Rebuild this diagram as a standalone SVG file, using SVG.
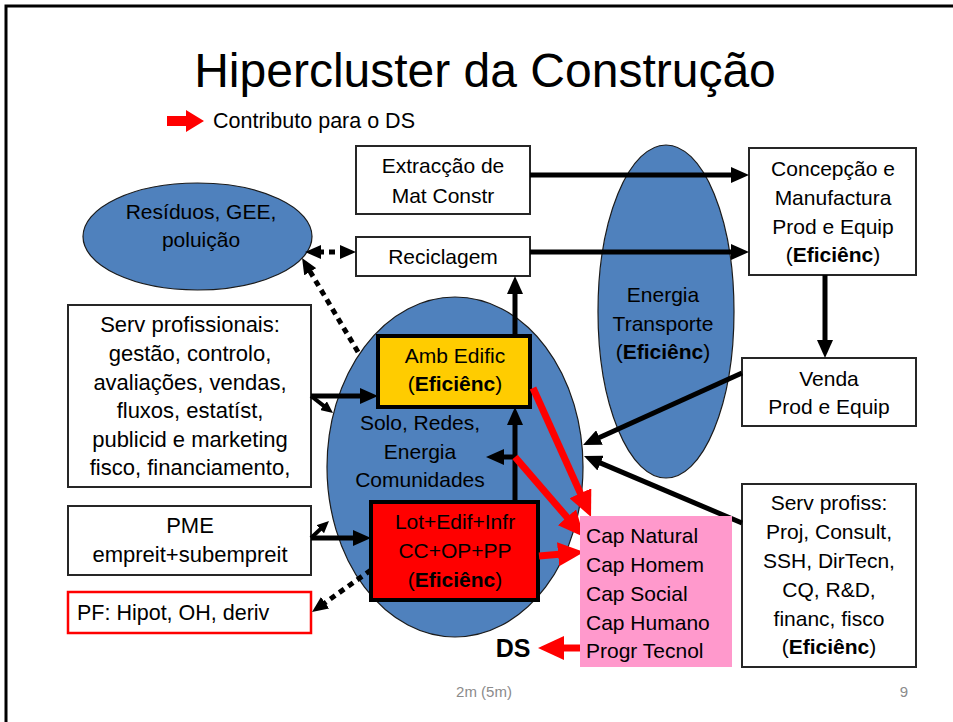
<svg xmlns="http://www.w3.org/2000/svg" width="953" height="722" viewBox="0 0 953 722">
<style>
.t{font-family:"Liberation Sans",Arial,sans-serif;font-size:21px;fill:#000}
.l{font-size:22px}
.c{text-anchor:middle}
.b{font-weight:bold}
.box{fill:#fff;stroke:#262626;stroke-width:2}
.ell{fill:#4F81BD;stroke:#1b1b1b;stroke-width:1.2}
.blk{stroke:#000;stroke-width:5;fill:none;marker-end:url(#hb)}
.sm{stroke:#000;stroke-width:4;fill:none;marker-end:url(#hs)}
.dot{stroke:#000;stroke-width:5;fill:none;stroke-dasharray:6 5;marker-end:url(#hd)}
.red{stroke:#FF0000;stroke-width:7;fill:none;marker-end:url(#hr)}
.foot{font-family:"Liberation Sans",Arial,sans-serif;font-size:15px;fill:#8B8B8B;text-anchor:middle}
</style>
<defs>
<marker id="hb" viewBox="0 0 18 16" refX="3" refY="8" markerWidth="18" markerHeight="16" markerUnits="userSpaceOnUse" orient="auto"><path d="M0,0 L18,8 L0,16 z" fill="#000"/></marker>
<marker id="hs" viewBox="0 0 12 11" refX="2" refY="5.5" markerWidth="12" markerHeight="11" markerUnits="userSpaceOnUse" orient="auto"><path d="M0,0 L12,5.5 L0,11 z" fill="#000"/></marker>
<marker id="hd" viewBox="0 0 16 14" refX="3" refY="7" markerWidth="16" markerHeight="14" markerUnits="userSpaceOnUse" orient="auto-start-reverse"><path d="M0,0 L16,7 L0,14 z" fill="#000"/></marker>
<marker id="hr" viewBox="0 0 26 24" refX="4" refY="12" markerWidth="26" markerHeight="24" markerUnits="userSpaceOnUse" orient="auto"><path d="M0,0 L26,12 L0,24 z" fill="#FF0000"/></marker>
</defs>
<rect width="953" height="722" fill="#fff"/>
<path d="M6,722 V6 H953" fill="none" stroke="#000" stroke-width="3"/>
<text class="t c" x="485" y="87" style="font-size:48px">Hipercluster da Construção</text>
<g id="legend">
<path d="M167,116 H186 V110 L204,121 L186,132 V126 H167 z" fill="#FF0000"/>
<text class="t" x="213" y="128" style="font-size:21.5px">Contributo para o DS</text>
</g>
<g id="energia"><ellipse class="ell" cx="666" cy="311.5" rx="68" ry="166.5"/>
<text class="t c" x="663" y="302">Energia</text><text class="t c" x="663" y="331">Transporte</text><text class="t c" x="663" y="359">(<tspan class="b">Eficiênc</tspan>)</text></g>
<g id="central"><ellipse class="ell" cx="455" cy="467" rx="128" ry="170"/>
<text class="t c" x="420" y="430">Solo, Redes,</text><text class="t c" x="420" y="459">Energia</text><text class="t c" x="420" y="487">Comunidades</text></g>
<g id="residuos"><ellipse class="ell" cx="197.5" cy="236.5" rx="114.5" ry="53.5"/>
<text class="t c" x="201" y="219">Resíduos, GEE,</text><text class="t c" x="201" y="247">poluição</text></g>
<g id="extraccao"><rect class="box" x="356" y="146" width="174" height="68"/>
<text class="t c" x="443" y="173">Extracção de</text><text class="t c" x="443" y="203">Mat Constr</text></g>
<g id="reciclagem"><rect class="box" x="356" y="237" width="174" height="39"/>
<text class="t c" x="443" y="264">Reciclagem</text></g>
<g id="concepcao"><rect class="box" x="749" y="148" width="167" height="127"/>
<text class="t c" x="833" y="176">Concepção e</text><text class="t c" x="833" y="205">Manufactura</text><text class="t c" x="833" y="234">Prod e Equip</text><text class="t c" x="833" y="262">(<tspan class="b">Eficiênc</tspan>)</text></g>
<g id="venda"><rect class="box" x="742" y="358" width="174" height="68"/>
<text class="t c" x="829" y="386">Venda</text><text class="t c" x="829" y="414">Prod e Equip</text></g>
<g id="servprof"><rect class="box" x="68" y="305" width="243" height="182"/>
<text class="t l c" x="190" y="332">Serv profissionais:</text><text class="t l c" x="190" y="361">gestão, controlo,</text><text class="t l c" x="190" y="390">avaliações, vendas,</text><text class="t l c" x="190" y="418">fluxos, estatíst,</text><text class="t l c" x="190" y="447">publicid e marketing</text><text class="t l c" x="190" y="475">fisco, financiamento,</text></g>
<g id="pme"><rect class="box" x="68" y="506" width="243" height="69"/>
<text class="t l c" x="190" y="533">PME</text><text class="t l c" x="190" y="562">empreit+subempreit</text></g>
<g id="pf"><rect x="68" y="592" width="243" height="41" fill="#fff" stroke="#FF0000" stroke-width="2.5"/>
<text class="t" x="77" y="620" style="font-size:21.5px">PF: Hipot, OH, deriv</text></g>
<g id="ambedific"><rect x="378" y="336" width="152" height="71" fill="#FFCC00" stroke="#000" stroke-width="4"/>
<text class="t c" x="455" y="363">Amb Edific</text><text class="t c" x="455" y="391">(<tspan class="b">Eficiênc</tspan>)</text></g>
<g id="lotedif"><rect x="371" y="502" width="167" height="98" fill="#FF0000" stroke="#000" stroke-width="4"/>
<text class="t c" x="455" y="529">Lot+Edif+Infr</text><text class="t c" x="455" y="558">CC+OP+PP</text><text class="t c" x="455" y="587">(<tspan class="b">Eficiênc</tspan>)</text></g>
<g id="servprofiss"><rect class="box" x="742" y="484" width="174" height="183"/>
<text class="t c" x="829" y="510">Serv profiss:</text><text class="t c" x="829" y="539">Proj, Consult,</text><text class="t c" x="829" y="568">SSH, DirTecn,</text><text class="t c" x="829" y="597">CQ, R&amp;D,</text><text class="t c" x="829" y="626">financ, fisco</text><text class="t c" x="829" y="654">(<tspan class="b">Eficiênc</tspan>)</text></g>
<g id="connectors">
<path class="blk" d="M530,175 H734"/>
<path class="blk" d="M530,252 H734"/>
<path class="blk" d="M825,275 V343"/>
<path class="blk" d="M742,373 L596.7,438.8"/>
<path class="blk" d="M742,523 L597.8,461.9"/>
<path class="blk" d="M515,336 V291"/>
<path class="blk" d="M515,502 V422"/>
<path class="blk" d="M517,457 H501"/>
<path class="blk" d="M311,396 H363"/>
<path class="sm" d="M311,396 L325.1,406.9"/>
<path class="blk" d="M311,538 H356"/>
<path class="sm" d="M311,538 L321.7,527.9"/>
<path class="dot" d="M318,252 H343" style="marker-start:url(#hd)"/>
<path class="dot" d="M358,352 L308.7,269.2"/>
<path class="dot" d="M371,570 L322.6,604.5"/>
<path class="red" d="M533,388 L582,496.9"/>
<path class="red" d="M515,457 L569.6,520.3"/>
<path class="red" d="M539,556 L562.1,553.9"/>
<path class="red" d="M580,648 H560"/>
</g>
<g id="capitais"><rect x="580" y="516" width="152" height="151" fill="#FF99CC"/>
<text class="t" x="586" y="543">Cap Natural</text><text class="t" x="586" y="572">Cap Homem</text><text class="t" x="586" y="601">Cap Social</text><text class="t" x="586" y="630">Cap Humano</text><text class="t" x="586" y="658">Progr Tecnol</text></g>
<g id="ds"><text class="t c b" x="513" y="657" style="font-size:25px">DS</text></g>
<text class="foot" x="484" y="697">2m (5m)</text>
<text class="foot" x="904" y="697">9</text>
</svg>
